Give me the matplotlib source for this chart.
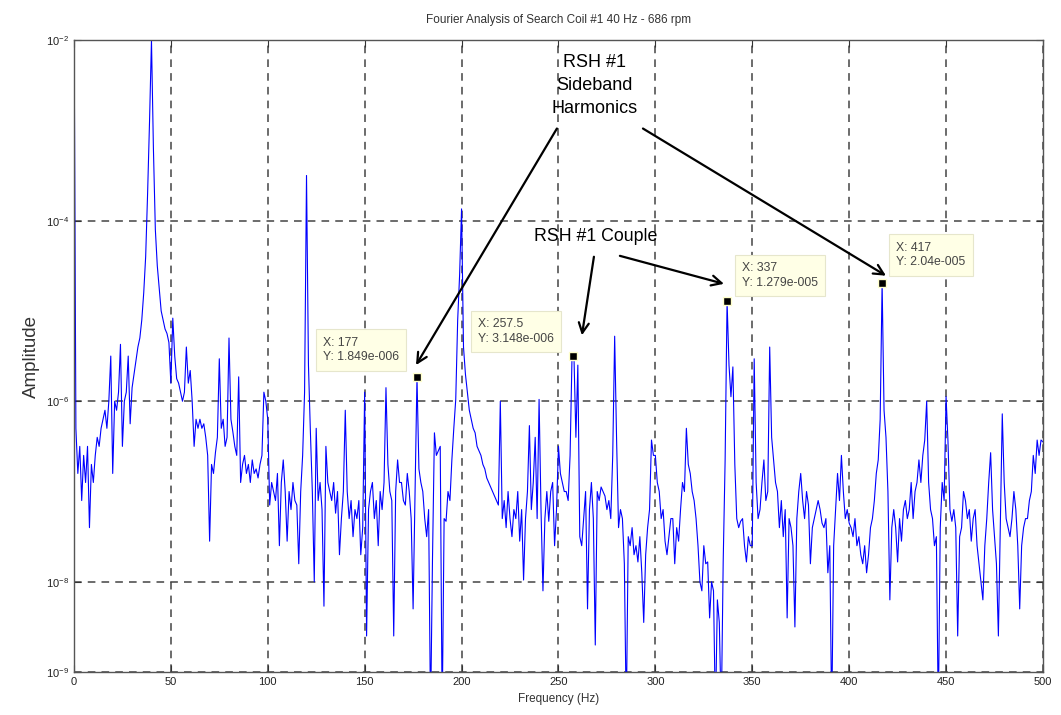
import numpy as np
import matplotlib
matplotlib.use("Agg")
import matplotlib.pyplot as plt

plt.rcParams["font.family"] = ["Liberation Sans", "DejaVu Sans"]
plt.rcParams["mathtext.fontset"] = "custom"
plt.rcParams["mathtext.rm"] = "Liberation Sans"
plt.rcParams["mathtext.it"] = "Liberation Sans"

freqs_hz = np.arange(0, 501, 1.0)
log_amp = [
    -1.5, -6.3, -6.8, -6.5, -7.1, -6.6, -6.9, -6.5, -7.4, -6.7,       # 0
    -6.9, -6.6, -6.4, -6.5, -6.3, -6.2, -6.1, -6.3, -6.0, -5.5,       # 10
    -6.8, -6.0, -6.1, -5.9, -5.37, -6.5, -6.0, -5.9, -5.5, -6.25,     # 20
    -5.85, -5.7, -5.55, -5.4, -5.3, -5.1, -4.8, -4.4, -3.7, -2.9,     # 30
    -2.0, -3.2, -4.1, -4.5, -4.75, -5.0, -5.1, -5.2, -5.25, -5.35,    # 40
    -5.8, -5.08, -5.5, -5.75, -5.8, -5.9, -6.0, -5.9, -5.4, -5.8,     # 50
    -5.66, -6.0, -6.5, -6.2, -6.3, -6.2, -6.3, -6.25, -6.4, -6.6,     # 60
    -7.55, -6.7, -6.8, -6.57, -6.4, -5.53, -6.3, -6.2, -6.5, -6.4,    # 70
    -5.3, -6.2, -6.34, -6.5, -6.6, -5.73, -6.9, -6.7, -6.6, -6.8,     # 80
    -6.7, -6.9, -6.65, -6.8, -6.75, -6.85, -6.7, -6.6, -5.9, -6.0,    # 90
    -6.2, -7.15, -6.9, -7.0, -7.1, -6.8, -7.6, -6.9, -6.65, -7.0,     # 100
    -7.55, -7.0, -7.2, -6.9, -7.1, -7.15, -7.8, -7.0, -6.6, -5.9,     # 110
    -3.5, -5.6, -6.34, -7.0, -8.0, -6.3, -7.1, -6.9, -7.2, -8.27,     # 120
    -6.5, -6.9, -7.0, -7.1, -6.9, -7.24, -7.0, -7.7, -7.3, -7.0,      # 130
    -6.1, -7.0, -7.3, -7.1, -7.5, -7.2, -7.3, -7.1, -7.7, -7.4,       # 140
    -5.9, -8.6, -7.2, -7.0, -6.9, -7.3, -7.1, -7.6, -7.0, -7.2,       # 150
    -6.9, -5.85, -6.7, -7.0, -7.1, -8.6, -7.0, -6.65, -6.9, -6.9,     # 160
    -7.1, -7.15, -6.8, -7.0, -7.3, -8.3, -7.0, -5.733, -6.75, -6.9,   # 170
    -7.0, -7.3, -7.5, -7.2, -9.5, -7.75, -6.35, -6.6, -6.55, -6.5,    # 180
    -9.5, -7.3, -7.33, -7.0, -7.1, -6.65, -6.3, -5.98, -5.1, -4.6,    # 190
    -3.87, -5.4, -5.7, -5.9, -6.1, -6.2, -6.3, -6.35, -6.5, -6.55,    # 200
    -6.6, -6.7, -6.75, -6.85, -6.9, -6.95, -7.0, -7.05, -7.1, -7.15,  # 210
    -6.0, -7.3, -7.1, -7.4, -7.0, -7.3, -7.5, -7.2, -7.3, -7.0,       # 220
    -7.55, -7.2, -7.98, -7.3, -7.0, -6.27, -7.2, -6.9, -6.4, -7.3,    # 230
    -5.98, -7.2, -8.1, -7.3, -7.0, -7.33, -7.0, -6.9, -7.6, -7.2,     # 240
    -6.5, -6.8, -6.9, -7.0, -7.0, -7.1, -6.6, -5.502, -5.502, -6.4,   # 250
    -5.6, -7.5, -7.6, -7.3, -7.0, -8.3, -7.2, -6.9, -7.3, -8.7,       # 260
    -7.0, -7.1, -6.95, -7.0, -7.05, -7.2, -7.1, -7.3, -6.6, -5.28,    # 270
    -6.43, -7.4, -7.2, -7.3, -7.8, -9.5, -7.5, -7.6, -7.4, -7.7,      # 280
    -7.6, -7.78, -7.5, -7.9, -8.45, -7.7, -7.4, -7.2, -6.43, -6.6,    # 290
    -6.6, -6.9, -7.0, -7.3, -7.2, -7.55, -7.7, -7.5, -7.3, -7.3,      # 300
    -7.8, -7.4, -7.55, -7.2, -6.9, -7.0, -6.3, -6.7, -6.8, -7.0,      # 310
    -7.1, -7.3, -7.6, -8.0, -8.1, -7.6, -7.8, -7.78, -8.4, -8.0,      # 320
    -8.1, -9.5, -8.2, -8.45, -9.5, -7.78, -6.65, -4.893, -5.6, -5.95, # 330
    -5.62, -6.7, -7.3, -7.4, -7.33, -7.3, -7.6, -7.78, -7.5, -7.6,    # 340
    -7.6, -5.53, -6.9, -7.3, -7.2, -6.9, -6.65, -7.1, -7.0, -5.4,     # 350
    -6.4, -6.65, -6.9, -7.0, -7.4, -7.1, -7.5, -7.2, -8.4, -7.3,      # 360
    -7.4, -7.6, -8.5, -7.3, -7.0, -6.8, -7.1, -7.3, -7.0, -7.15,      # 370
    -7.8, -7.4, -7.3, -7.2, -7.1, -7.2, -7.35, -7.4, -7.3, -7.9,      # 380
    -7.6, -9.5, -7.6, -7.2, -6.8, -7.1, -6.6, -7.0, -7.3, -7.2,       # 390
    -7.35, -7.4, -7.5, -7.3, -7.6, -7.5, -7.7, -7.8, -7.6, -7.9,      # 400
    -7.7, -7.4, -7.3, -7.1, -6.8, -6.65, -6.2, -4.69, -6.1, -6.4,     # 410
    -7.0, -8.2, -7.4, -7.2, -7.4, -7.78, -7.3, -7.55, -7.2, -7.1,     # 420
    -7.3, -7.2, -6.9, -7.3, -7.0, -6.9, -6.65, -6.9, -6.6, -6.43,     # 430
    -6.0, -6.9, -7.2, -7.3, -7.6, -7.5, -9.5, -7.4, -6.9, -7.1,       # 440
    -5.95, -6.45, -7.2, -7.33, -7.2, -7.4, -8.6, -7.5, -7.4, -7.0,    # 450
    -7.1, -7.3, -7.2, -7.55, -7.3, -7.2, -7.6, -7.8, -8.0, -8.2,      # 460
    -7.6, -7.3, -6.9, -6.57, -7.2, -7.5, -7.8, -8.6, -7.4, -6.14,     # 470
    -6.9, -7.3, -7.4, -7.5, -7.3, -7.0, -7.2, -7.6, -8.3, -7.6,       # 480
    -7.4, -7.3, -7.3, -7.1, -7.0, -6.6, -6.8, -6.43, -6.6, -6.43,     # 490
    -6.45,                                                            # 500
]

# MATLAB data tips
tip_x = [177, 257.5, 337, 417]
tip_y = [1.849e-6, 3.148e-6, 1.279e-5, 2.04e-5]
tip_text = ["X: 177\nY: 1.849e-006", "X: 257.5\nY: 3.148e-006",
            "X: 337\nY: 1.279e-005", "X: 417\nY: 2.04e-005"]
tip_offset_px = [(-94, 27), (-95, 25), (15, 26), (14, 28)]

y_ticks = [1e-9, 1e-8, 1e-6, 1e-4, 1e-2]
y_tick_labels = [r"$10^{-9}$", r"$10^{-8}$", r"$10^{-6}$", r"$10^{-4}$", r"$10^{-2}$"]
x_ticks = list(range(0, 501, 50))


def main():
    amp = 10 ** np.array(log_amp)

    fig = plt.figure(figsize=(10.61, 7.15), dpi=100)
    ax = fig.add_axes([0.0697, 0.060, 0.9133, 0.884])

    ax.plot(freqs_hz, amp, color="#0000ff", linewidth=0.8)
    ax.set_yscale("log")
    ax.set_xlim(0, 500)
    ax.set_ylim(1e-9, 1e-2)

    ax.set_xticks(x_ticks)
    ax.set_xticklabels([str(t) for t in x_ticks], fontsize=8)
    ax.set_yticks(y_ticks)
    ax.set_yticklabels(y_tick_labels, fontsize=8)
    ax.minorticks_off()
    ax.tick_params(direction="in", top=True, right=True, length=5,
                   color="#333333", labelcolor="#222222")
    ax.grid(True, color="#444444", linestyle=(0, (5, 4)), linewidth=1.1)
    for s in ax.spines.values():
        s.set_color("#555555")
        s.set_linewidth(1.0)

    ax.set_title("Fourier Analysis of Search Coil #1 40 Hz - 686 rpm",
                 fontsize=8.5, color="#333333", pad=12)
    ax.set_xlabel("Frequency (Hz)", fontsize=8.5, color="#333333", labelpad=4)
    ax.set_ylabel("Amplitude", fontsize=13.5, color="#333333", labelpad=4)

    # data tips
    ax.plot(tip_x, tip_y, linestyle="none", marker="s", markersize=6,
            markerfacecolor="black", markeredgecolor="#ffffcc", zorder=5)
    for x, y, txt, off in zip(tip_x, tip_y, tip_text, tip_offset_px):
        ax.annotate(txt, xy=(x, y), xytext=off, textcoords="offset pixels",
                    ha="left", va="center", fontsize=8.8, color="#444444",
                    linespacing=1.3, zorder=6,
                    bbox=dict(boxstyle="square,pad=0.6", fc="#ffffe6",
                              ec="#e6e6cc", lw=0.8))

    # hand-drawn callouts
    ax.text(268.5, 10 ** -2.5, "RSH #1\nSideband\nHarmonics", ha="center",
            va="center", fontsize=13, color="black", linespacing=1.45)
    ax.text(269, 10 ** -4.18, "RSH #1 Couple", ha="center", va="center",
            fontsize=12.8, color="black")
    arrow = dict(arrowstyle="->", color="black", lw=1.6,
                 mutation_scale=18, shrinkA=0, shrinkB=0)
    ax.annotate("", xy=(176.5, 10 ** -5.6), xytext=(249.2, 10 ** -2.98),
                arrowprops=arrow)
    ax.annotate("", xy=(419, 10 ** -4.61), xytext=(293.6, 10 ** -2.98),
                arrowprops=arrow)
    ax.annotate("", xy=(262.1, 10 ** -5.27), xytext=(268.3, 10 ** -4.40),
                arrowprops=arrow)
    ax.annotate("", xy=(335.4, 10 ** -4.70), xytext=(281.7, 10 ** -4.39),
                arrowprops=arrow)

    fig.savefig("out.png", dpi=100)


if __name__ == "__main__":
    main()
